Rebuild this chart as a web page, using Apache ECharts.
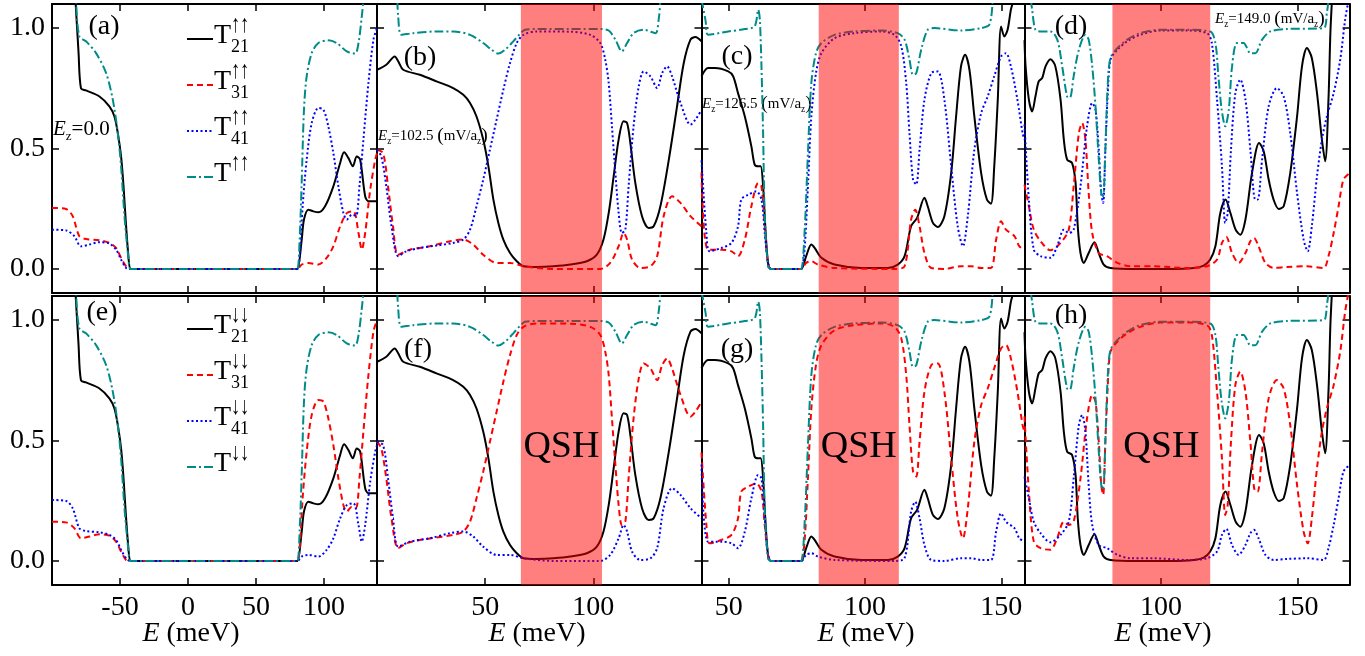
<!DOCTYPE html>
<html><head><meta charset="utf-8">
<script src="https://cdn.jsdelivr.net/npm/echarts@6/dist/echarts.min.js"></script>
<style>html,body{margin:0;padding:0;background:#fff}#c{width:1365px;height:656px}</style>
</head><body><div id="c"></div><script>
// ---------------- DATA ----------------
// x tick labels per column, y tick labels
const xTicks1 = [-50, 0, 50, 100];
const xTicks2 = [50, 100];
const xTicks3 = [50, 100, 150];
const xTicks4 = [100, 150];
const yTicks = [0, 0.5, 1.0];
const xRange1 = [-100, 139], xRange2 = [0, 150], xRange3 = [40, 158.5], xRange4 = [50, 169];
const qshBand2 = [66.5, 104], qshBand3 = [83, 112.4], qshBand4 = [82.2, 118];
const ezValues = ['0.0', '102.5', '126.5', '149.0'];
const panelLetters = ['(a)','(b)','(c)','(d)','(e)','(f)','(g)','(h)'];

// Panel (a), spin up-up, E_z = 0
const a_T21 = [[-100,2.0],[-86,1.4],[-82.8,1.12],[-80.5,0.9],[-78.7,0.75],[-75,0.741],[-65.1,0.716],[-57.8,0.675],[-54.1,0.633],[-51.6,0.564],[-49.2,0.467],[-47.4,0.343],[-46,0.219],[-44.2,0.08],[-42.5,0],[-41,0],[79,0],[80.6,0],[83.6,0.12],[85.3,0.205],[88.5,0.246],[92.2,0.239],[95.9,0.235],[100.8,0.26],[106.9,0.343],[111.9,0.44],[114.8,0.484],[118,0.46],[121.2,0.426],[124.1,0.467],[126.6,0.454],[130.3,0.302],[132.7,0.281],[139,0.281]];
const a_T31 = [[-100,0.253],[-89.7,0.249],[-84.8,0.219],[-79.9,0.136],[-75,0.124],[-65.1,0.119],[-57.8,0.108],[-52.9,0.087],[-49.2,0.046],[-45.5,0.011],[-42.5,0],[-41,0],[79,0],[80.6,0],[83.6,0.018],[88.5,0.025],[95.9,0.018],[102,0.046],[106.9,0.094],[111.9,0.177],[116.8,0.232],[121.7,0.239],[125.4,0.149],[127.8,0.08],[130.3,0.149],[134,0.329],[137.7,0.454],[139,0.48]];
const a_T41 = [[-100,0.163],[-89.7,0.16],[-83.6,0.136],[-78.7,0.094],[-72.5,0.101],[-65.1,0.111],[-57.8,0.105],[-52.9,0.08],[-49.2,0.039],[-45.5,0.004],[-42.5,0],[-41,0],[79,0],[80.6,0],[82.3,0.066],[84.3,0.26],[87.3,0.454],[91,0.606],[95.9,0.668],[99.6,0.661],[103.2,0.592],[106.9,0.481],[110.6,0.343],[114.3,0.232],[116.8,0.205],[120.5,0.225],[123.6,0.221],[126.1,0.343],[129,0.537],[132.7,0.772],[136.4,0.952],[139,1.0]];
const a_T = [[-100,2.0],[-85,1.4],[-82.4,1.12],[-79.9,0.965],[-75,0.945],[-67.6,0.896],[-60.2,0.813],[-55.3,0.703],[-51.6,0.564],[-49.2,0.426],[-46.7,0.219],[-44.2,0.066],[-42.5,0],[-41,0],[79,0],[80.6,0],[82.3,0.15],[83.6,0.357],[85.3,0.661],[87.3,0.8],[91,0.896],[95.9,0.938],[103.2,0.949],[109.4,0.938],[116.8,0.903],[122.9,0.894],[125.4,0.938],[127.8,1.048],[129,1.12],[131,1.4],[139,2.0]];

// Panel (b), E_z = 102.5
const b_T21 = [[0,0.827],[4.3,0.848],[8.2,0.882],[9.8,0.862],[12.1,0.827],[19.8,0.806],[27.5,0.779],[35.2,0.751],[39.9,0.723],[43,0.689],[46,0.633],[49.1,0.537],[51.5,0.426],[53.8,0.288],[56.1,0.191],[58.4,0.122],[61.5,0.066],[64.6,0.032],[67.7,0.011],[73.9,0.008],[81.6,0.011],[89.3,0.018],[97,0.032],[101.6,0.059],[104.7,0.122],[107.1,0.232],[109.4,0.385],[111.7,0.537],[114,0.613],[115.6,0.606],[117.1,0.523],[119.4,0.357],[122.5,0.219],[125.6,0.17],[127.9,0.177],[131,0.26],[134.9,0.454],[138.7,0.675],[141.8,0.855],[144.9,0.952],[147.2,0.963],[150,0.945]];
const b_T31 = [[0,0.495],[2.8,0.481],[5.1,0.343],[7.4,0.177],[9.8,0.059],[15.2,0.08],[24.4,0.094],[33.7,0.115],[39.9,0.122],[44.5,0.101],[49.1,0.059],[55.3,0.025],[61.5,0.025],[67.7,0.011],[81.6,0],[103.2,0],[107.8,0.025],[111.7,0.094],[114,0.149],[115.6,0.122],[117.9,0.039],[121.7,0.004],[126.4,0.011],[129.5,0.053],[132.5,0.219],[136.4,0.302],[140.3,0.274],[144.9,0.219],[150,0.177]];
const b_T41 = [[0,0.495],[2,0.467],[4.3,0.343],[6.7,0.177],[9.8,0.053],[13.6,0.073],[19.8,0.087],[27.5,0.097],[35.2,0.108],[39.9,0.122],[43,0.163],[46,0.26],[49.1,0.371],[52.2,0.495],[55.3,0.62],[58.4,0.744],[61.5,0.855],[64.6,0.938],[67.7,0.972],[73.9,0.986],[89.3,0.985],[98.6,0.972],[103.2,0.938],[105.5,0.869],[107.1,0.772],[108.6,0.592],[110.2,0.398],[111.7,0.232],[113.2,0.149],[114.8,0.163],[116.3,0.343],[118.6,0.592],[121,0.758],[123.3,0.82],[126.4,0.799],[129.5,0.751],[131.8,0.813],[134.1,0.841],[136.4,0.799],[140.3,0.689],[144.9,0.599],[147.2,0.62],[150,0.66]];
const b_T = [[0,1.6],[8.7,1.2],[9.8,1.048],[11.3,0.972],[16.7,0.979],[27.5,0.986],[35.2,0.986],[43,0.972],[49.1,0.938],[53,0.91],[56.1,0.894],[59.2,0.91],[63,0.945],[66.4,0.979],[68.4,0.993],[73.9,0.996],[89.3,0.996],[103.2,0.996],[107.1,0.99],[110.2,0.952],[113.2,0.903],[115.6,0.938],[118.6,0.979],[123.3,0.993],[128.7,0.979],[130.2,1.035],[131,1.12],[133,1.5],[150,1.6]];

// Panel (c), E_z = 126.5
const c_T21 = [[40,0.8],[42.4,0.834],[44.9,0.834],[49.8,0.82],[51.6,0.8],[53.4,0.73],[55.9,0.633],[58.3,0.509],[59.5,0.433],[60.8,0.426],[61.7,0.426],[62.6,0.343],[63.4,0.177],[64.4,0.025],[65.4,0],[66.5,0],[75.5,0],[76.6,0],[78.4,0.053],[80.3,0.101],[81.5,0.087],[84,0.046],[88.8,0.018],[98.6,0.004],[108.4,0.004],[112,0.018],[114.5,0.053],[116.9,0.177],[119.1,0.212],[121.8,0.295],[123,0.26],[124.9,0.191],[126.7,0.174],[129.1,0.219],[131.6,0.398],[133.4,0.633],[135.2,0.841],[136.7,0.889],[138.3,0.827],[140.1,0.633],[142.6,0.398],[144.7,0.288],[146.2,0.271],[147.4,0.426],[148.7,0.703],[149.9,1.007],[151.1,0.965],[152.3,0.993],[153.5,1.076],[154.5,1.12],[158.5,1.6]];
const c_T31 = [[40,0.4],[42.4,0.08],[47.3,0.08],[51,0.073],[53.4,0.053],[55.9,0.122],[58.3,0.26],[60.8,0.357],[62,0.343],[63.2,0.177],[64.4,0.025],[65.4,0],[66.5,0],[75.5,0],[76.6,0],[78.4,0.025],[80.3,0.032],[82.7,0.018],[88.8,0.004],[110.8,0],[114.5,0.011],[116.9,0.205],[118.4,0.246],[120,0.177],[121.8,0.066],[124.3,0.004],[129.1,0],[135.2,0.011],[138.9,0.011],[142.6,0.004],[146.2,0.004],[148.1,0.122],[149.9,0.198],[151.7,0.163],[154.8,0.136],[156.6,0.094],[158.5,0.08]];
const c_T41 = [[40,0.45],[41.8,0.149],[43,0.073],[47.3,0.087],[51,0.108],[53.4,0.177],[54.6,0.288],[57.1,0.308],[60.1,0.322],[62,0.288],[63.2,0.149],[64.4,0.025],[65.4,0],[66.5,0],[75.5,0],[76.6,0],[77.8,0.08],[79.1,0.357],[80.3,0.633],[82,0.813],[84,0.896],[88.8,0.958],[96.1,0.979],[105.9,0.986],[110.8,0.972],[113.3,0.924],[115.1,0.772],[116.3,0.564],[117.6,0.371],[118.8,0.35],[120,0.495],[121.8,0.703],[124.3,0.813],[126.7,0.82],[129.1,0.703],[131.6,0.426],[134,0.177],[135.9,0.094],[137.7,0.219],[140.1,0.495],[142.6,0.647],[145,0.716],[147.4,0.8],[149.9,0.882],[151.7,0.896],[153.5,0.841],[155.9,0.703],[157.8,0.564],[158.5,0.537]];
const c_T = [[40,1.12],[41.5,1.03],[42.4,0.972],[49.8,0.986],[55.9,0.996],[59.5,1.007],[60.8,1.076],[61.4,1.035],[62,0.841],[62.6,0.564],[63.2,0.219],[64.4,0.011],[65.4,0],[66.5,0],[75.5,0],[76.6,0],[77.8,0.149],[79.1,0.495],[80.3,0.772],[82,0.896],[84,0.938],[88.8,0.972],[96.1,0.986],[105.9,0.99],[112,0.979],[114.5,0.952],[116.3,0.869],[117.6,0.806],[118.8,0.813],[120.6,0.91],[123,0.993],[125.5,1.0],[135.2,0.99],[142.6,1.0],[145.6,1.014],[146.8,1.12],[148,1.6],[158.5,1.6]];

// Panel (d), E_z = 149.0
const d_T21 = [[50,0.95],[50.4,0.841],[51.6,0.703],[52.8,0.654],[54,0.716],[55.2,0.779],[56.5,0.793],[57.7,0.841],[59.5,0.871],[61.3,0.841],[63.2,0.703],[64.4,0.537],[65.6,0.454],[67.4,0.44],[68.7,0.357],[69.5,0.177],[70.5,0.066],[71.7,0.025],[73.5,0.066],[75.6,0.111],[77.2,0.066],[79,0.018],[81.5,0.004],[91.2,0],[103.4,0],[112,0.004],[115.6,0.014],[118,0.039],[119.9,0.094],[121.7,0.232],[123.6,0.288],[125.4,0.232],[127.3,0.163],[129,0.142],[130.9,0.205],[133.3,0.398],[135.9,0.523],[137.6,0.488],[139.4,0.371],[141.2,0.288],[143.1,0.249],[144.9,0.26],[147.3,0.398],[149.8,0.633],[151.6,0.841],[153.4,0.917],[155.2,0.876],[157.1,0.73],[158.9,0.537],[160.1,0.447],[161.3,0.703],[162,0.979],[162.6,1.12],[165,1.6],[169,1.6]];
const d_T31 = [[50,0.35],[51.6,0.26],[53.4,0.163],[55.9,0.115],[59.5,0.077],[63.2,0.108],[66.2,0.163],[68,0.343],[69.9,0.564],[71.1,0.606],[72.3,0.537],[73.5,0.315],[74.8,0.149],[77.2,0.066],[80.2,0.053],[84,0.025],[88.8,0.011],[97.3,0.011],[109.5,0.004],[116.8,0.011],[120.5,0.039],[122.3,0.108],[123.9,0.133],[126,0.066],[128.4,0.025],[130.9,0.066],[132.7,0.115],[134,0.129],[135.7,0.094],[138.2,0.025],[141.2,0.004],[146.1,0.008],[153.4,0.011],[159.5,0.004],[161.3,0.053],[163.2,0.149],[165,0.26],[166.8,0.371],[169,0.398]];
const d_T41 = [[50,0.6],[51.6,0.288],[53.4,0.08],[55.9,0.053],[59.5,0.046],[61.95,0.094],[64.4,0.163],[66.2,0.149],[68,0.163],[70.5,0.343],[72.9,0.592],[74.8,0.689],[76,0.661],[77.2,0.495],[78.1,0.315],[78.8,0.274],[79.6,0.495],[80.5,0.73],[81.5,0.869],[84,0.91],[87.6,0.945],[92.4,0.972],[99.8,0.99],[109.5,0.99],[116.8,0.979],[118.6,0.938],[120.5,0.703],[122.3,0.426],[123.5,0.191],[124.4,0.232],[125.6,0.495],[127.2,0.73],[129,0.786],[130.9,0.703],[132.7,0.495],[134.5,0.288],[135.4,0.288],[137,0.454],[139.4,0.675],[142.4,0.751],[144.9,0.716],[147.3,0.564],[149.8,0.315],[152.2,0.122],[153.7,0.073],[155.2,0.177],[157.1,0.385],[158.9,0.537],[160.7,0.633],[163.2,0.73],[165.6,0.869],[167.4,1.035],[168.7,1.12],[169,1.15]];
const d_T = [[50,1.4],[52,1.15],[52.8,1.076],[54,0.993],[55.9,0.986],[59.5,0.986],[62,0.952],[63.8,0.841],[65.6,0.716],[66.6,0.71],[68,0.8],[69.9,0.91],[72.3,0.972],[73.5,0.952],[74.8,0.841],[76,0.675],[77.2,0.454],[78.1,0.315],[78.8,0.302],[79.6,0.495],[80.5,0.772],[81.5,0.876],[84,0.917],[87.6,0.952],[92.4,0.979],[99.8,0.993],[109.5,0.993],[118,0.986],[119.9,0.938],[121,0.8],[122.2,0.661],[123.5,0.592],[124.8,0.661],[126,0.841],[127.8,0.938],[130.2,0.938],[132.7,0.896],[134.5,0.896],[137,0.952],[140,0.986],[146.1,0.996],[159.5,1.0],[160.7,1.062],[161.3,1.12],[163,1.6],[169,1.6]];

// Spin down-down panels (e)-(h): T21 and T coincide with the up-up panels,
// while T31 and T41 appear exchanged in the figure.
const e_T21 = a_T21, e_T31 = a_T41, e_T41 = a_T31, e_T = a_T;
const f_T21 = b_T21, f_T31 = b_T41, f_T41 = b_T31, f_T = b_T;
const g_T21 = c_T21, g_T31 = c_T41, g_T41 = c_T31, g_T = c_T;
const h_T21 = d_T21, h_T31 = d_T41, h_T41 = d_T31, h_T = d_T;

// ---------------- LAYOUT / STYLE ----------------
const FONT = 'Liberation Serif';
const colsL = [{left:52,width:325},{left:377,width:324.5},{left:701.5,width:323},{left:1024.5,width:325}];
const rowsL = [{top:4,height:289},{top:296,height:289}];
const xTicks = [xTicks1, xTicks2, xTicks3, xTicks4];
const xRanges = [xRange1, xRange2, xRange3, xRange4];
const bands = [null, qshBand2, qshBand3, qshBand4];
const panelData = [
  [[a_T21,a_T31,a_T41,a_T],[b_T21,b_T31,b_T41,b_T],[c_T21,c_T31,c_T41,c_T],[d_T21,d_T31,d_T41,d_T]],
  [[e_T21,e_T31,e_T41,e_T],[f_T21,f_T31,f_T41,f_T],[g_T21,g_T31,g_T41,g_T],[h_T21,h_T31,h_T41,h_T]]
];
const lineStyles = [
  {color:'#000000', type:'solid', width:2},
  {color:'#ff0000', type:[6,4], width:2},
  {color:'#0000ff', type:[2,2.5], width:2},
  {color:'#008b8b', type:[9,3,2,3], width:2}
];
const AX = {color:'#000', width:2};

const grid = [], xAxis = [], yAxis = [], series = [];
for (let r = 0; r < 2; r++) {
  for (let c = 0; c < 4; c++) {
    const g = r*4 + c;
    grid.push({left:colsL[c].left, top:rowsL[r].top, width:colsL[c].width, height:rowsL[r].height});
    const [xmin, xmax] = xRanges[c];
    const baseX = {gridIndex:g, type:'value', min:xmin, max:xmax, splitLine:{show:false},
      axisLine:{show:true, onZero:false, lineStyle:AX},
      axisTick:{show:true, inside:true, length:7, lineStyle:{color:'#000', width:1.5}, customValues:xTicks[c]}};
    xAxis.push(Object.assign({}, baseX, {position:'bottom',
      axisLabel:{show:r===1, customValues:xTicks[c], margin:9, fontFamily:FONT, fontSize:28, color:'#000', formatter:v=>String(v)}}));
    xAxis.push(Object.assign({}, baseX, {position:'top', axisLabel:{show:false}}));
    const baseY = {gridIndex:g, type:'value', min:-0.1, max:1.1, splitLine:{show:false},
      axisLine:{show:true, onZero:false, lineStyle:AX},
      axisTick:{show:true, inside:true, length:7, lineStyle:{color:'#000', width:1.5}, customValues:yTicks}};
    yAxis.push(Object.assign({}, baseY, {position:'left',
      axisLabel:{show:c===0, customValues:yTicks, margin:7, fontFamily:FONT, fontSize:28, color:'#000', formatter:v=>v.toFixed(1)}}));
    yAxis.push(Object.assign({}, baseY, {position:'right', axisLabel:{show:false}}));

    panelData[r][c].forEach((d, k) => {
      series.push({type:'line', xAxisIndex:2*g, yAxisIndex:2*g, data:d, showSymbol:false, symbol:'none',
        smooth:0.3, clip:true, lineStyle:lineStyles[k], z:2+k*0.01, silent:true});
    });
    if (bands[c]) {
      const showQ = r===1;
      series.push({type:'custom', xAxisIndex:2*g, yAxisIndex:2*g, z:10, silent:true, clip:false,
        data:[[bands[c][0], bands[c][1]]],
        renderItem:(params, api) => {
          const p0 = api.coord([api.value(0), 1.1]);
          const p1 = api.coord([api.value(1), -0.1]);
          const ch = [{type:'rect', shape:{x:p0[0], y:p0[1], width:p1[0]-p0[0], height:p1[1]-p0[1]},
                       style:{fill:'rgba(255,0,0,0.5)'}}];
          if (showQ) {
            const pm = api.coord([(api.value(0)+api.value(1))/2, 0.475]);
            ch.push({type:'text', x:pm[0], y:pm[1], style:{text:'QSH', fontFamily:FONT, fontSize:38,
              fill:'#000', align:'center', verticalAlign:'middle'}});
          }
          return {type:'group', children:ch};
        }});
    }
  }
}

// ---- graphic: legends, panel letters, E_z notes, axis titles ----
const graphic = [];
const legY0 = [39, 329];
const legSub = ['21','31','41',''];
for (let r = 0; r < 2; r++) {
  const arrows = r===0 ? '\u2191\u2191' : '\u2193\u2193';
  for (let k = 0; k < 4; k++) {
    const L = legY0[r] + k*46;
    graphic.push({type:'line', shape:{x1:187, y1:L, x2:213, y2:L},
      style:{stroke:lineStyles[k].color, lineWidth:2, lineDash: Array.isArray(lineStyles[k].type)? lineStyles[k].type : null}});
    graphic.push({type:'text', x:214, y:L-3, style:{text:'T', fontFamily:FONT, fontSize:28, fill:'#000', verticalAlign:'middle'}});
    if (legSub[k]) graphic.push({type:'text', x:231, y:L+8, style:{text:legSub[k], fontFamily:FONT, fontSize:18, fill:'#000', verticalAlign:'middle'}});
    graphic.push({type:'text', x:231, y:L-14, scaleX:0.72, style:{text:arrows, fontFamily:FONT, fontSize:25, fill:'#000', verticalAlign:'middle'}});
  }
}
const letterPos = [[104,27],[420,58],[737,57],[1071,27],[102,313],[418,350],[737,350],[1071,316]];
panelLetters.forEach((t,i) => graphic.push({type:'text', x:letterPos[i][0], y:letterPos[i][1],
  style:{text:t, fontFamily:FONT, fontSize:28, fill:'#000', align:'center', verticalAlign:'middle'}}));

function ezRich(F){
  return {
    i:{fontFamily:FONT, fontStyle:'italic', fontSize:F, lineHeight:F*1.3, verticalAlign:'middle', color:'#000'},
    s:{fontFamily:FONT, fontSize:F*0.62, lineHeight:F*1.3, verticalAlign:'bottom', color:'#000'},
    n:{fontFamily:FONT, fontSize:F, lineHeight:F*1.3, verticalAlign:'middle', color:'#000'},
    p:{fontFamily:FONT, fontSize:F*1.3, lineHeight:F*1.3, verticalAlign:'middle', color:'#000'}
  };
}
const ezPos = [[53,129,21],[378,136,15],[702,104,15],[1215,19,15]];
ezValues.forEach((v,i) => {
  const txt = i===0 ? '{i|E}{s|z}{n|=' + v + '}' : '{i|E}{s|z}{n|=' + v + ' }{p|(}{n|mV/a}{s|z}{p|)}';
  graphic.push({type:'text', x:ezPos[i][0], y:ezPos[i][1], style:{text:txt, rich:ezRich(ezPos[i][2]), verticalAlign:'middle'}});
});
const titleX = [191, 537, 866, 1163];
titleX.forEach(x => graphic.push({type:'text', x:x, y:634, style:{text:'{i|E} (meV)', fontFamily:FONT, fontSize:28, fill:'#000',
  align:'center', verticalAlign:'middle', rich:{i:{fontFamily:FONT, fontStyle:'italic', fontSize:28, color:'#000'}}}}));

const chart = echarts.init(document.getElementById('c'), null, {renderer:'canvas'});
chart.setOption({animation:false, backgroundColor:'#fff', grid, xAxis, yAxis, series, graphic});
</script></body></html>
